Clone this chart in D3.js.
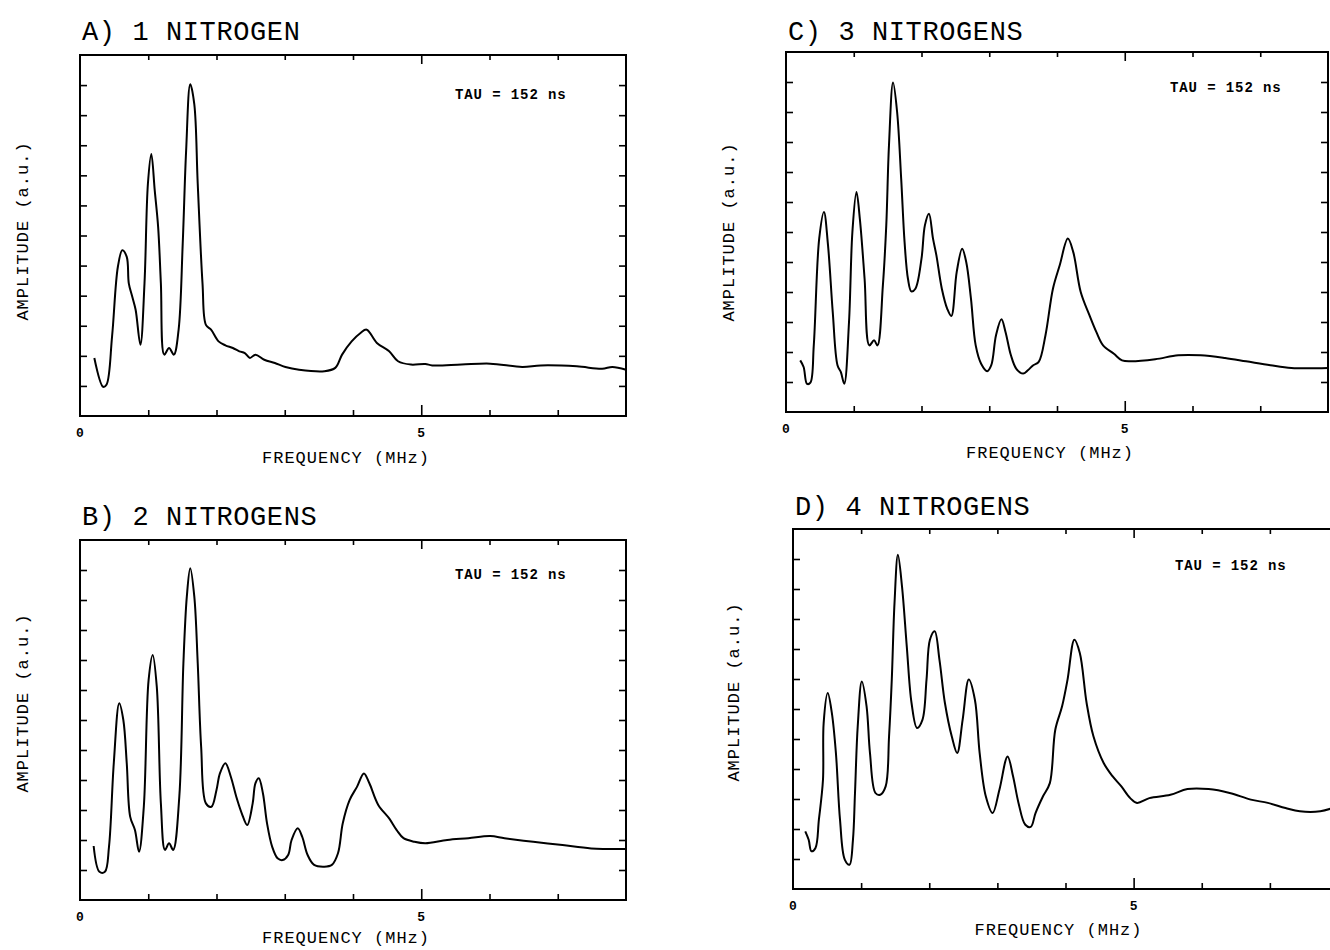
<!DOCTYPE html>
<html>
<head>
<meta charset="utf-8">
<script src="https://cdn.jsdelivr.net/npm/d3@7"></script>
<style>
  body { margin: 0; background: #fff; }
  text { fill: #000; }
</style>
</head>
<body>
<svg width="1330" height="950"></svg>
<script>
// spectra: frequency in MHz, amplitude in tick units (0..12)
const freqA = [0.21,0.34,0.39,0.47,0.555,0.62,0.685,0.715,0.765,0.815,0.885,0.945,0.995,1.045,1.095,1.145,1.185,1.235,1.305,1.375,1.445,1.505,1.555,1.615,1.675,1.725,1.795,1.845,1.92,2.03,2.13,2.24,2.335,2.415,2.49,2.57,2.70,2.855,3.01,3.21,3.58,3.74,3.84,3.98,4.11,4.2,4.35,4.53,4.66,4.85,5.06,5.16,5.59,6.01,6.48,6.75,7.28,7.65,7.8,8.0];
const ampA  = [1.93,0.97,1.05,2.65,4.96,5.51,5.29,4.41,3.97,3.53,2.37,4.41,7.72,8.71,7.5,6.28,4.41,2.04,2.26,2.04,2.87,5.73,8.82,11.03,10.36,7.72,4.41,3.03,2.87,2.48,2.35,2.26,2.15,2.09,1.93,2.04,1.87,1.76,1.63,1.54,1.49,1.6,2.04,2.48,2.76,2.87,2.43,2.15,1.82,1.71,1.73,1.68,1.71,1.74,1.63,1.68,1.65,1.57,1.63,1.54];

const freqB = [0.20,0.285,0.365,0.425,0.495,0.575,0.635,0.685,0.735,0.805,0.865,0.935,1.005,1.065,1.125,1.185,1.245,1.305,1.365,1.455,1.515,1.565,1.615,1.675,1.725,1.775,1.845,1.925,2.0,2.05,2.13,2.21,2.29,2.37,2.45,2.53,2.57,2.62,2.68,2.74,2.815,2.895,2.97,3.05,3.10,3.19,3.255,3.335,3.43,3.58,3.69,3.78,3.85,3.95,4.06,4.16,4.24,4.37,4.53,4.64,4.74,4.90,5.06,5.38,5.69,6.01,6.22,6.64,7.07,7.49,8.0];
const ampB  = [1.8,0.94,0.94,1.78,4.56,6.56,6.0,4.56,2.78,2.33,1.61,3.11,7.33,8.17,7.11,3.22,1.67,1.89,1.67,3.44,7.89,10.11,11.06,10.11,7.89,5.11,3.22,3.11,3.67,4.22,4.56,4.11,3.44,2.89,2.5,3.22,3.89,4.06,3.56,2.56,1.78,1.39,1.33,1.5,2.0,2.39,2.11,1.5,1.17,1.11,1.17,1.56,2.56,3.33,3.78,4.22,3.89,3.17,2.72,2.33,2.06,1.94,1.89,2.0,2.06,2.13,2.06,1.94,1.83,1.72,1.7];

const freqC = [0.21,0.26,0.31,0.36,0.41,0.49,0.56,0.62,0.69,0.76,0.81,0.86,0.93,0.98,1.04,1.09,1.16,1.23,1.30,1.35,1.43,1.48,1.52,1.58,1.64,1.70,1.75,1.80,1.85,1.91,2.0,2.05,2.11,2.17,2.22,2.30,2.38,2.44,2.52,2.60,2.66,2.73,2.80,2.88,2.97,3.03,3.10,3.18,3.24,3.32,3.40,3.50,3.57,3.65,3.73,3.83,3.94,4.04,4.16,4.24,4.35,4.48,4.58,4.68,4.84,4.96,5.09,5.45,5.79,6.12,6.48,6.79,7.15,7.46,8.0];
const ampC  = [1.72,1.5,0.94,0.98,2.22,5.78,6.67,5.56,3.33,1.56,1.33,0.94,3.0,6.0,7.33,6.44,4.44,2.22,2.39,2.22,4.22,6.22,8.89,10.98,10.0,7.78,5.67,4.44,4.02,4.11,5.11,6.22,6.61,5.78,5.22,4.11,3.44,3.2,4.67,5.44,5.0,3.78,2.22,1.61,1.36,1.56,2.56,3.09,2.67,1.89,1.44,1.28,1.39,1.56,1.67,2.56,4.11,4.89,5.78,5.33,4.0,3.22,2.67,2.22,1.94,1.72,1.69,1.76,1.89,1.89,1.8,1.69,1.56,1.47,1.47];

const freqD = [0.18,0.23,0.27,0.33,0.38,0.44,0.45,0.51,0.57,0.63,0.69,0.76,0.83,0.88,0.91,0.95,1.01,1.08,1.13,1.21,1.28,1.36,1.41,1.45,1.49,1.54,1.60,1.67,1.74,1.82,1.90,1.96,2.01,2.08,2.15,2.23,2.33,2.41,2.49,2.58,2.67,2.74,2.83,2.93,3.03,3.15,3.23,3.31,3.41,3.49,3.56,3.67,3.77,3.85,3.95,4.03,4.13,4.21,4.31,4.41,4.56,4.69,4.82,4.95,5.05,5.23,5.54,5.79,6.10,6.41,6.72,6.97,7.23,7.44,7.74,7.92];
const ampD  = [1.92,1.64,1.26,1.37,2.31,3.64,5.53,6.53,5.87,4.53,2.31,0.98,0.81,1.64,3.2,5.42,6.92,6.09,4.53,3.2,3.14,3.42,5.09,6.98,9.53,11.14,10.09,8.09,6.2,5.37,5.64,6.98,8.31,8.59,7.64,6.2,5.09,4.53,5.64,6.98,6.31,4.53,3.09,2.53,3.31,4.42,3.76,2.87,2.14,2.07,2.53,3.09,3.53,5.31,6.09,6.98,8.31,7.87,6.2,5.09,4.2,3.76,3.42,3.03,2.87,3.03,3.14,3.33,3.33,3.2,2.98,2.87,2.7,2.59,2.59,2.7];

const titles = ['A) 1 NITROGEN', 'B) 2 NITROGENS', 'C) 3 NITROGENS', 'D) 4 NITROGENS'];
const xTicks = [1, 2, 3, 4, 5, 6, 7];
const yTicks = [1, 2, 3, 4, 5, 6, 7, 8, 9, 10, 11];
const xTickLabels = [0, 5];
const tauLabel = 'TAU = 152 ns';
const xTitle = 'FREQUENCY (MHz)';
const yTitle = 'AMPLITUDE (a.u.)';

const svg = d3.select('svg');

// panel boxes on the page
const panels = [
  {title: titles[0], freq: freqA, amp: ampA, left: 80,  right: 626,  top: 55,  bottom: 416, titleY: 40,  xLabY: 463, yLabX: 22,  yLabY: 231, tauX: 455,  tauY: 99},
  {title: titles[1], freq: freqB, amp: ampB, left: 80,  right: 626,  top: 540, bottom: 900, titleY: 525, xLabY: 943, yLabX: 22,  yLabY: 703, tauX: 455,  tauY: 579},
  {title: titles[2], freq: freqC, amp: ampC, left: 786, right: 1328, top: 52,  bottom: 412, titleY: 40,  xLabY: 458, yLabX: 728, yLabY: 232, tauX: 1170, tauY: 92},
  {title: titles[3], freq: freqD, amp: ampD, left: 793, right: 1338, top: 529, bottom: 889, titleY: 515, xLabY: 935, yLabX: 733, yLabY: 692, tauX: 1175, tauY: 570},
];

const drawPanel = p => {
  const x = d3.scaleLinear().domain([0, 8]).range([p.left, p.right]);
  const y = d3.scaleLinear().domain([0, 12]).range([p.bottom, p.top]);

  const g = svg.append('g');

  // frame
  g.append('rect')
    .attr('x', p.left).attr('y', p.top)
    .attr('width', p.right - p.left).attr('height', p.bottom - p.top)
    .attr('fill', 'none').attr('stroke', '#000').attr('stroke-width', 2);

  // inward ticks on all four sides
  const bottomAxis = g.append('g').attr('transform', `translate(0,${p.bottom})`)
    .call(d3.axisBottom(x).tickValues(xTicks).tickSize(-6).tickFormat(''));
  const topAxis = g.append('g').attr('transform', `translate(0,${p.top})`)
    .call(d3.axisTop(x).tickValues(xTicks).tickSize(-5).tickFormat(''));
  g.append('g').attr('transform', `translate(${p.left},0)`)
    .call(d3.axisLeft(y).tickValues(yTicks).tickSize(-7).tickFormat(''));
  g.append('g').attr('transform', `translate(${p.right},0)`)
    .call(d3.axisRight(y).tickValues(yTicks).tickSize(-7).tickFormat(''));
  bottomAxis.selectAll('.tick line').filter(d => d === 5).attr('y2', -11);
  topAxis.selectAll('.tick line').filter(d => d === 5).attr('y2', 9);
  g.selectAll('.domain').remove();
  g.selectAll('.tick line').attr('stroke', '#000').attr('stroke-width', 1.6);

  // tick labels 0 and 5
  g.selectAll('text.xl').data(xTickLabels).enter().append('text')
    .attr('class', 'xl')
    .attr('x', d => x(d)).attr('y', p.bottom + 21)
    .attr('text-anchor', 'middle')
    .style('font', 'bold 13px "Liberation Mono", monospace')
    .text(d => d);

  // spectrum
  const line = d3.line()
    .x(d => x(d[0])).y(d => y(d[1]))
    .curve(d3.curveCatmullRom.alpha(0.5));
  g.append('path')
    .datum(d3.zip(p.freq, p.amp))
    .attr('d', line)
    .attr('fill', 'none').attr('stroke', '#000')
    .attr('stroke-width', 2).attr('stroke-linejoin', 'round');

  // texts
  g.append('text').attr('x', p.left + 2).attr('y', p.titleY)
    .style('font', '27px "Liberation Mono", monospace')
    .style('letter-spacing', '0.6px')
    .text(p.title);
  g.append('text').attr('x', x(4) - 7).attr('y', p.xLabY)
    .attr('text-anchor', 'middle')
    .style('font', '17px "Liberation Mono", monospace')
    .style('letter-spacing', '1px')
    .text(xTitle);
  g.append('text')
    .attr('transform', `translate(${p.yLabX},${p.yLabY}) rotate(-90)`)
    .attr('text-anchor', 'middle').attr('dy', '0.35em')
    .style('font', '17px "Liberation Mono", monospace')
    .style('letter-spacing', '1px')
    .text(yTitle);
  g.append('text').attr('x', p.tauX).attr('y', p.tauY)
    .style('font', 'bold 14px "Liberation Mono", monospace')
    .style('letter-spacing', '0.9px')
    .text(tauLabel);
};

panels.forEach(drawPanel);
</script>
</body>
</html>
